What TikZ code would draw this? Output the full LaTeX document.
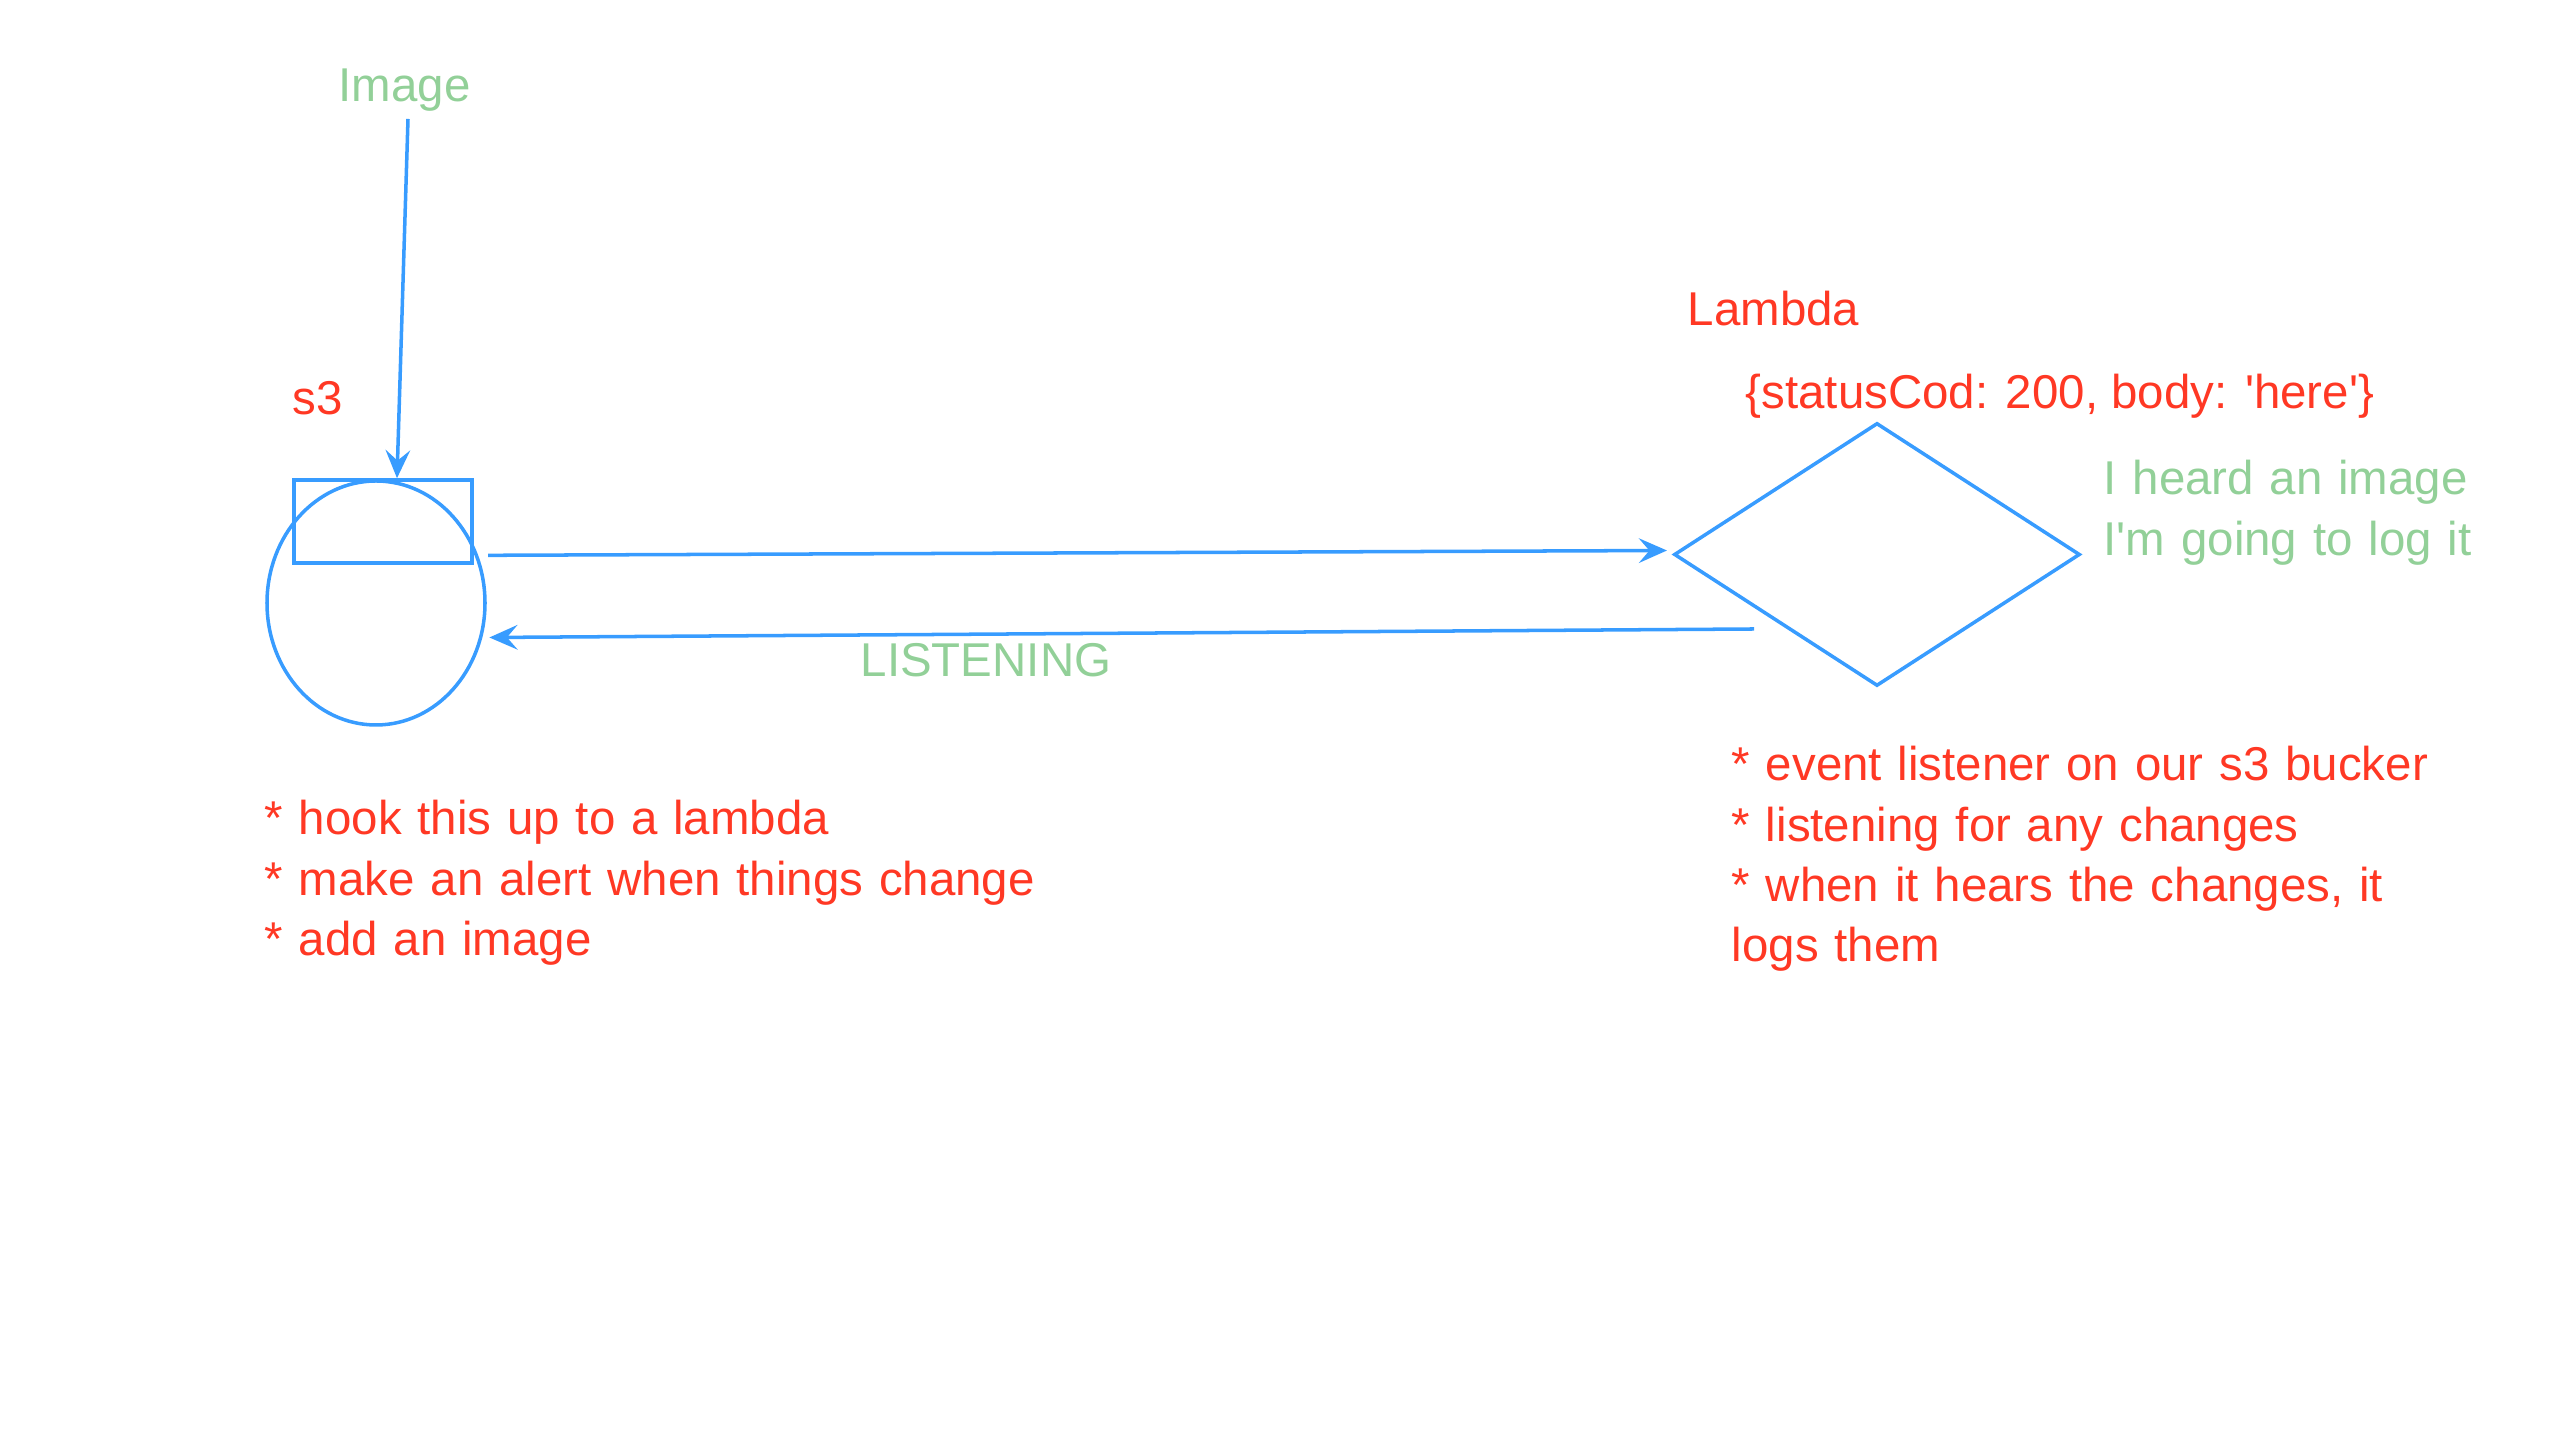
\documentclass[tikz,border=0pt]{standalone}
\usepackage{fontspec}
\setmainfont{Liberation Sans}[Ligatures=TeXOff]
\usetikzlibrary{shapes.geometric,arrows.meta}
\definecolor{notered}{RGB}{255,56,36}
\definecolor{notegreen}{RGB}{146,208,152}
\definecolor{lineblue}{RGB}{56,156,255}
\begin{document}
\begin{tikzpicture}[
	flow/.style={draw=lineblue,line width=1pt,-{Stealth[length=8pt,width=7pt,inset=3pt]}},
	redtxt/.style={text=notered,inner sep=0pt,anchor=base west,font=\fontsize{13.5}{17.1}\selectfont},
	greentxt/.style={text=notegreen,inner sep=0pt,anchor=base west,font=\fontsize{13.5}{17.1}\selectfont}]
	\useasboundingbox (0,0) rectangle (25.6,14.44);
	\node[draw=lineblue,line width=1pt,ellipse,minimum width=2.18cm,minimum height=2.44cm,inner sep=0pt] (s3) at (3.76,8.41) {};
	\node[draw=lineblue,line width=1pt,rectangle,minimum width=1.78cm,minimum height=0.83cm,inner sep=0pt] (bucket) at (3.83,9.225) {};
	\node[draw=lineblue,line width=1pt,diamond,minimum width=4.06cm,minimum height=2.63cm,inner sep=0pt] (lambda) at (18.77,8.895) {};
	\node[greentxt] (img) at (3.38,13.42) {Image};
	\node[redtxt] (s3txt) at (2.92,10.29) {s3};
	\node[redtxt] (lambdatxt) at (16.87,11.18) {Lambda};
	\node[redtxt] (status) at (17.45,10.35) {\{statusCod: 200, body: 'here'\}};
	\node[greentxt,text width=5cm,align=left] (heard) at (21.03,9.49) {I heard an image\\I'm going to log it};
	\node[greentxt] (listen) at (8.60,7.67) {LISTENING};
	\node[redtxt,text width=9cm,align=left] (s3notes) at (2.64,6.09) {{*} hook this up to a lambda\\{*} make an alert when things change\\{*} add an image};
	\node[redtxt,text width=8cm,align=left] (lambdanotes) at (17.31,6.63) {{*} event listener on our s3 bucker\\{*} listening for any changes\\{*} when it hears the changes, it\\logs them};
	\coordinate (imgtail) at (4.08,13.25);
	\coordinate (ret) at (17.54,8.15);
	\draw[flow] (imgtail) -- ([xshift=0.14cm]bucket.north);
	\draw[flow,shorten >=1.5pt] ([xshift=0.1cm]s3.25) -- ([yshift=0.04cm]lambda.west);
	\draw[flow,shorten >=2pt] (ret) -- (s3.-18);
\end{tikzpicture}
\end{document}
